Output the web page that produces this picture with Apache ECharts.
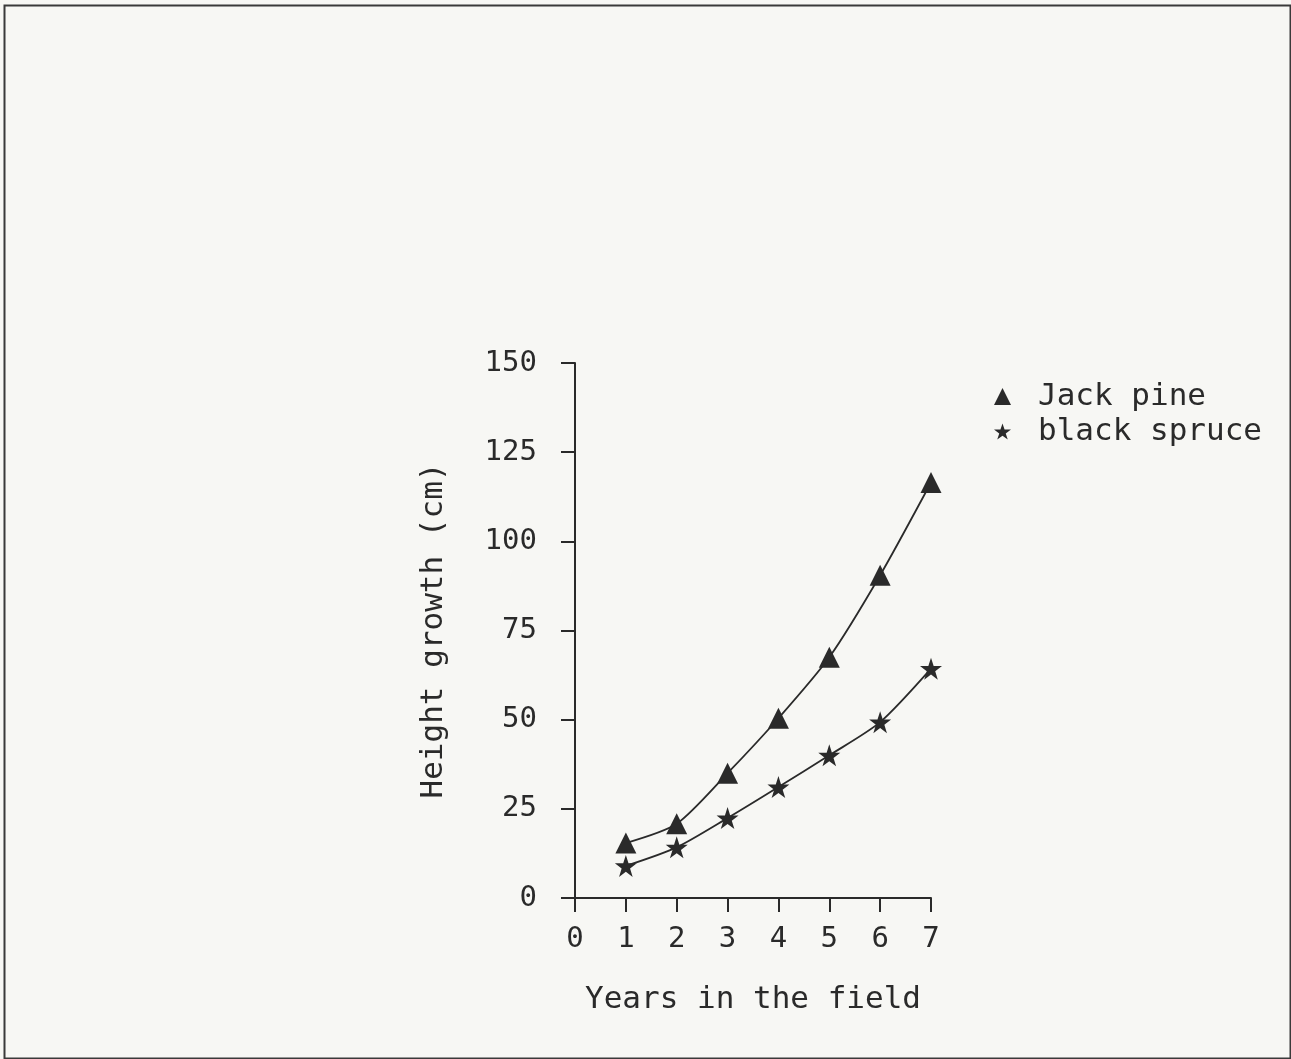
<!DOCTYPE html>
<html>
<head>
<meta charset="utf-8">
<script src="https://cdn.jsdelivr.net/npm/echarts@6/dist/echarts.min.js"></script>
<style>
html,body{margin:0;padding:0;background:#f7f7f4;}
#chart{width:1291px;height:1059px;}
</style>
</head>
<body>
<div id="chart"></div>
<script>
var years = [0, 1, 2, 3, 4, 5, 6, 7];
var jackPine = [15.4, 20.8, 35.0, 50.4, 67.5, 90.5, 116.5];
var blackSpruce = [9.0, 14.2, 22.4, 31.1, 40.0, 49.3, 64.3];
var seriesNames = ['Jack pine', 'black spruce'];
var xTitle = 'Years in the field';
var yTitle = 'Height growth (cm)';

var STAR = 'path://M50,0 L61.8,35.3 L99,35.3 L68.8,57.3 L80.3,92.7 L50,70.8 L19.7,92.7 L31.2,57.3 L1,35.3 L38.2,35.3 Z';
var FONT = 'DejaVu Sans Mono';
var INK = '#2a2a2a';

function pairs(vals) {
  return vals.map(function (v, i) { return [years[i + 1], v]; });
}

var chart = echarts.init(document.getElementById('chart'), null, {renderer: 'canvas'});
chart.setOption({
  backgroundColor: '#f7f7f4',
  animation: false,
  graphic: [{
    type: 'rect', left: 2, top: 3,
    shape: {width: 1286, height: 1053},
    style: {fill: 'none', stroke: '#3a3a3a', lineWidth: 2}
  }],
  grid: {left: 575, top: 363, right: 360, bottom: 161},
  legend: {
    orient: 'vertical', left: 989, top: 376,
    itemWidth: 17, itemHeight: 17, itemGap: 4,
    textStyle: {fontFamily: FONT, fontSize: 31, color: INK, padding: [0, 0, 0, 22]},
    data: [{name: seriesNames[0], icon: 'triangle'}, {name: seriesNames[1], icon: STAR}]
  },
  xAxis: {
    type: 'value', min: 0, max: 7, interval: 1,
    name: xTitle, nameLocation: 'middle', nameGap: 86,
    nameTextStyle: {fontFamily: FONT, fontSize: 31, color: INK},
    axisLine: {lineStyle: {color: INK, width: 2}},
    axisTick: {show: true, length: 14, lineStyle: {color: INK, width: 2}},
    axisLabel: {fontFamily: FONT, fontSize: 29, color: INK, margin: 27},
    splitLine: {show: false}
  },
  yAxis: {
    type: 'value', min: 0, max: 150, interval: 25,
    name: yTitle, nameLocation: 'middle', nameGap: 126, nameRotate: 90,
    nameTextStyle: {fontFamily: FONT, fontSize: 31, color: INK},
    axisLine: {show: true, lineStyle: {color: INK, width: 2}},
    axisTick: {show: true, length: 14, lineStyle: {color: INK, width: 2}},
    axisLabel: {fontFamily: FONT, fontSize: 29, color: INK, margin: 38},
    splitLine: {show: false}
  },
  series: [{
    name: seriesNames[0], type: 'line', data: pairs(jackPine),
    smooth: 0.25, symbol: 'triangle', symbolSize: 21,
    itemStyle: {color: INK}, lineStyle: {color: INK, width: 1.8}
  }, {
    name: seriesNames[1], type: 'line', data: pairs(blackSpruce),
    smooth: 0.25, symbol: STAR, symbolSize: 22,
    itemStyle: {color: INK}, lineStyle: {color: INK, width: 1.8}
  }]
});
</script>
</body>
</html>
